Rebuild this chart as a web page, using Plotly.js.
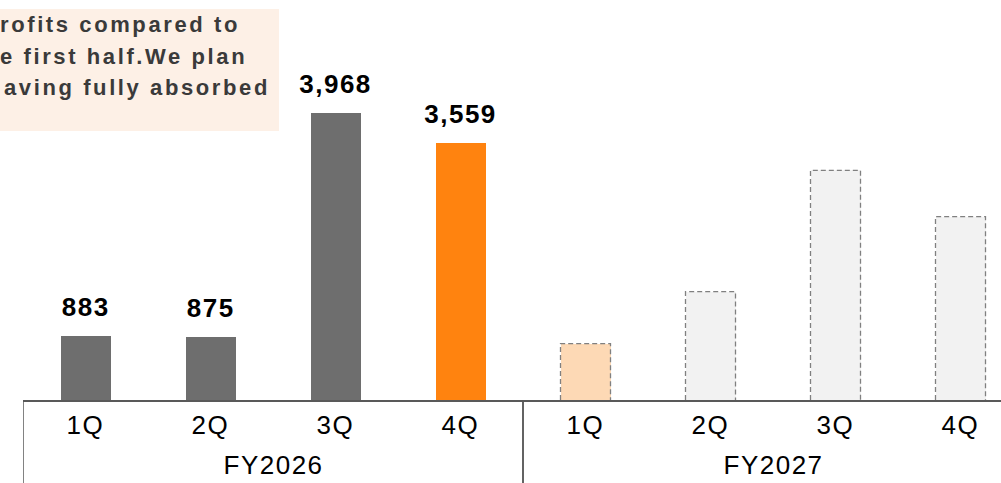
<!DOCTYPE html>
<html>
<head>
<meta charset="utf-8">
<script src="https://cdn.plot.ly/plotly-3.0.1.min.js"></script>
<style>
  html, body { margin: 0; padding: 0; background: #fff; }
  #chart { width: 1001px; height: 483px; }
  .annotation text { letter-spacing: 1.5px; }
  .annotation[data-index="0"] text,
  .annotation[data-index="1"] text,
  .annotation[data-index="2"] text { letter-spacing: 2.6px; }
</style>
</head>
<body>
<div id="chart"></div>
<script>
// ---- data ----
const years    = ['FY2026','FY2026','FY2026','FY2026','FY2027','FY2027','FY2027','FY2027'];
const quarters = ['1Q','2Q','3Q','4Q','1Q','2Q','3Q','4Q'];
const profits  = [883, 875, 3968, 3559, 779, 1498, 3177, 2536];
const valueLabels = ['883', '875', '3,968', '3,559', '', '', '', ''];
const isForecast = [false, false, false, false, true, true, true, true];
const barColors = ['#6e6e6e', '#6e6e6e', '#6e6e6e', '#ff830f', '#fdd9b5', '#f2f2f2', '#f2f2f2', '#f2f2f2'];
const noteLines = ['rofits compared to', 'e first half.We plan', 'aving fully absorbed'];

// ---- layout constants ----
const W = 1001, H = 483;
const ML = 23, MR = 0, MT = 0, MB = 83;
const plotW = W - ML - MR, plotH = H - MT - MB;
const xRange = [-0.5, -0.5 + plotW / 125];
const yRange = [0, 5533];
const barW = 0.4;
const FONT = 'Liberation Sans, Arial, sans-serif';

function px2paperX(p) { return (p - ML) / plotW; }
function px2paperY(p) { return (plotH + MT - p) / plotH; }

// bars
const bars = {
  type: 'bar',
  x: [years, quarters],
  y: profits,
  width: barW,
  marker: { color: barColors, line: { width: 0 } },
  hoverinfo: 'skip',
  showlegend: false
};

// dashed outlines for forecast bars (built from the data values)
const ox = [], oy = [];
profits.forEach((v, i) => {
  if (!isForecast[i]) return;
  ox.push(i - barW / 2, i - barW / 2, i + barW / 2, i + barW / 2, null);
  oy.push(0, v, v, 0, null);
});
const outlines = {
  type: 'scatter', mode: 'lines', x: ox, y: oy, xaxis: 'x2', yaxis: 'y',
  line: { color: '#808080', width: 1.3, dash: '5px,3px' },
  hoverinfo: 'skip', showlegend: false, connectgaps: false
};

// annotations
const annotations = [];
const noteStartX = [-2, -2, 2];
const noteCenterY = [24, 56, 88];
noteLines.forEach((t, i) => {
  annotations.push({
    xref: 'paper', yref: 'paper',
    x: px2paperX(noteStartX[i]), y: px2paperY(noteCenterY[i]),
    xanchor: 'left', yanchor: 'middle',
    text: '<b>' + t + '</b>', showarrow: false, align: 'left',
    font: { family: FONT, size: 22, color: '#3a3a3a' }
  });
});
profits.forEach((v, i) => {
  if (!valueLabels[i]) return;
  annotations.push({
    xref: 'x2', yref: 'y', x: i, y: v,
    xanchor: 'center', yanchor: 'bottom', yshift: 12,
    text: '<b>' + valueLabels[i] + '</b>', showarrow: false,
    font: { family: FONT, size: 26, color: '#000' }
  });
});
// quarter tick labels
quarters.forEach((q, i) => {
  annotations.push({
    xref: 'x2', yref: 'paper', x: i, y: px2paperY(425),
    xanchor: 'center', yanchor: 'middle', text: q, showarrow: false,
    font: { family: FONT, size: 26, color: '#000' }
  });
});
// year group labels and dividers
const shapes = [{
  type: 'rect', xref: 'paper', yref: 'paper', layer: 'below',
  x0: px2paperX(0), x1: px2paperX(279), y0: px2paperY(131), y1: px2paperY(9),
  fillcolor: '#fdf0e6', line: { width: 0 }
}];
const groups = [];
years.forEach((y, i) => {
  const g = groups[groups.length - 1];
  if (g && g.name === y) g.end = i; else groups.push({ name: y, start: i, end: i });
});
groups.forEach(g => {
  annotations.push({
    xref: 'x2', yref: 'paper', x: (g.start + g.end) / 2, y: px2paperY(482),
    xanchor: 'center', yanchor: 'bottom', text: g.name, showarrow: false,
    font: { family: FONT, size: 26, color: '#000' }
  });
  [g.start - 0.5, g.end + 0.5].forEach(xb => {
    shapes.push({
      type: 'line', xref: 'x2', yref: 'paper', x0: xb, x1: xb,
      y0: 0, y1: px2paperY(H + 2), line: { color: '#595959', width: 1.5 }
    });
  });
});

const layout = {
  width: W, height: H,
  margin: { l: ML, r: MR, t: MT, b: MB, pad: 0 },
  paper_bgcolor: '#ffffff', plot_bgcolor: '#ffffff',
  showlegend: false,
  xaxis: {
    type: 'multicategory',
    range: xRange,
    showline: true, linecolor: '#595959', linewidth: 1.5,
    showgrid: false, zeroline: false, ticks: '',
    showticklabels: false, showdividers: false
  },
  xaxis2: {
    type: 'linear', overlaying: 'x', range: xRange, visible: false, anchor: 'y'
  },
  yaxis: {
    range: yRange, visible: false, showgrid: false, zeroline: false, fixedrange: true
  },
  shapes: shapes,
  annotations: annotations,
  bargap: 0
};

Plotly.newPlot('chart', [bars, outlines], layout, { displayModeBar: false, staticPlot: true });
</script>
</body>
</html>
